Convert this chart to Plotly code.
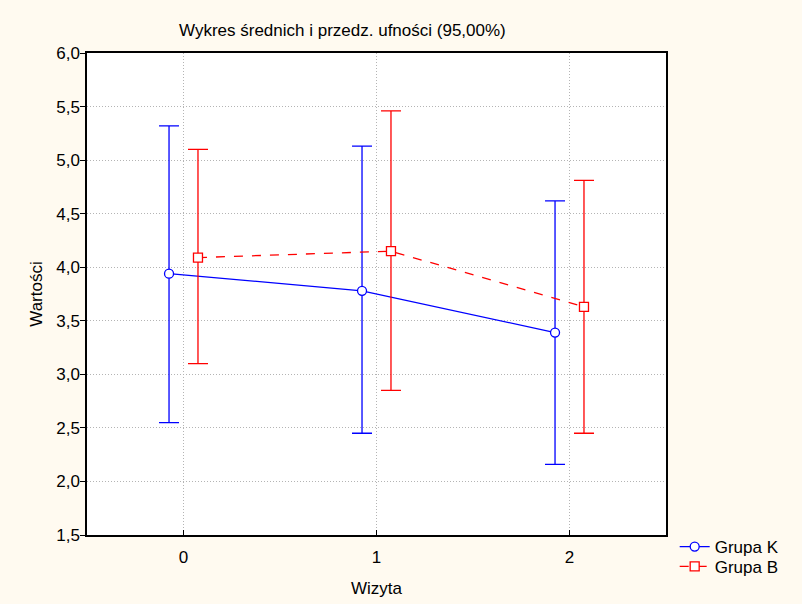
import plotly.graph_objects as go

# Visits and group means with 95% confidence limits
visits = [0, 1, 2]
tick_labels = ["0", "1", "2"]

grupa_k_mean = [3.94, 3.78, 3.39]
grupa_k_lower = [2.55, 2.45, 2.16]
grupa_k_upper = [5.32, 5.13, 4.62]

grupa_b_mean = [4.09, 4.15, 3.63]
grupa_b_lower = [3.10, 2.85, 2.45]
grupa_b_upper = [5.10, 5.46, 4.81]

y_ticks = [1.5, 2.0, 2.5, 3.0, 3.5, 4.0, 4.5, 5.0, 5.5, 6.0]
y_tick_labels = ["1,5", "2,0", "2,5", "3,0", "3,5", "4,0", "4,5", "5,0", "5,5", "6,0"]

OFFSET = 0.075
FONT = "Liberation Sans, Arial, sans-serif"
FS = 17


def err(mean, lower, upper, color):
    return dict(
        type="data",
        symmetric=False,
        array=[u - m for u, m in zip(upper, mean)],
        arrayminus=[m - l for m, l in zip(mean, lower)],
        color=color,
        thickness=1.3,
        width=10,
    )


def legend_box(y):
    return dict(
        x=1.015, y=y, xanchor="left", yanchor="middle",
        bgcolor="rgba(0,0,0,0)", font=dict(size=FS),
        itemwidth=30, tracegroupgap=0,
    )


fig = go.Figure()

fig.add_trace(go.Scatter(
    x=[v - OFFSET for v in visits], y=grupa_k_mean,
    mode="lines+markers", name="Grupa K", legend="legend",
    line=dict(color="#0000FF", width=1.3),
    marker=dict(symbol="circle", size=9, color="white",
                line=dict(color="#0000FF", width=1.3)),
    error_y=err(grupa_k_mean, grupa_k_lower, grupa_k_upper, "#0000FF"),
))

fig.add_trace(go.Scatter(
    x=[v + OFFSET for v in visits], y=grupa_b_mean,
    mode="lines+markers", name="Grupa B", legend="legend2",
    line=dict(color="#FF0000", width=1.3, dash="dash"),
    marker=dict(symbol="square", size=9, color="white",
                line=dict(color="#FF0000", width=1.3)),
    error_y=err(grupa_b_mean, grupa_b_lower, grupa_b_upper, "#FF0000"),
))

fig.update_layout(
    width=802, height=604,
    margin=dict(l=87, r=136, t=53, b=69, autoexpand=False),
    paper_bgcolor="#FFFAF0",
    plot_bgcolor="white",
    font=dict(family=FONT, size=FS, color="black"),
    showlegend=True,
    legend=legend_box(-0.025),
    legend2=legend_box(-0.066),
    annotations=[dict(
        text="Wykres średnich i przedz. ufności (95,00%)",
        xref="paper", yref="paper", x=0.442, y=1.0,
        yshift=23, xanchor="center", yanchor="middle",
        showarrow=False, font=dict(size=FS),
    )],
)

fig.update_xaxes(
    range=[-0.5, 2.5], automargin=False,
    tickmode="array", tickvals=visits, ticktext=tick_labels,
    ticks="inside", ticklen=5, tickcolor="black",
    ticklabelstandoff=6,
    showline=True, linecolor="black", linewidth=1.5, mirror=True,
    showgrid=True, gridcolor="#B4B4B4", griddash="1px,2px", gridwidth=1,
    zeroline=False,
    title=dict(text="Wizyta", standoff=16, font=dict(size=FS)),
)

fig.update_yaxes(
    range=[1.5, 6.0], automargin=False,
    tickmode="array", tickvals=y_ticks, ticktext=y_tick_labels,
    ticks="outside", ticklen=5, tickcolor="black",
    ticklabelstandoff=-3,
    showline=True, linecolor="black", linewidth=1.5, mirror=True,
    showgrid=True, gridcolor="#B4B4B4", griddash="1px,2px", gridwidth=1,
    zeroline=False,
    title=dict(text="Wartości", standoff=9, font=dict(size=FS)),
)

fig.write_html("out.html")
